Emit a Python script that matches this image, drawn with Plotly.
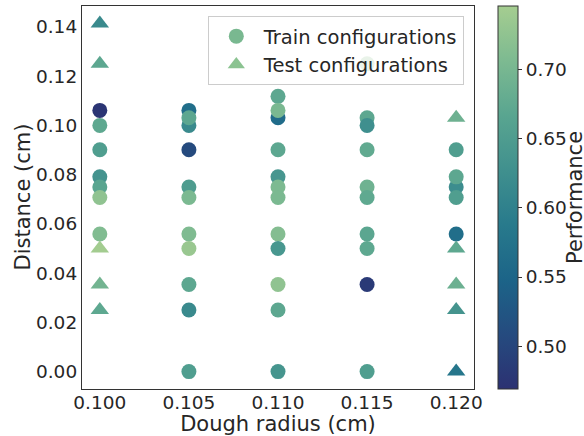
import plotly.graph_objects as go

# Train configurations (dough radius, distance, performance)
x_train = [0.100, 0.100, 0.100, 0.100, 0.100, 0.100, 0.100,
           0.105, 0.105, 0.105, 0.105, 0.105, 0.105, 0.105, 0.105, 0.105, 0.105, 0.105,
           0.110, 0.110, 0.110, 0.110, 0.110, 0.110, 0.110, 0.110, 0.110, 0.110, 0.110, 0.110,
           0.115, 0.115, 0.115, 0.115, 0.115, 0.115, 0.115, 0.115, 0.115, 0.115,
           0.120, 0.120, 0.120, 0.120, 0.120]
y_train = [0.1061, 0.1000, 0.0901, 0.0791, 0.0750, 0.0707, 0.0559,
           0.1061, 0.1000, 0.1031, 0.0901, 0.0750, 0.0707, 0.0559, 0.0500, 0.0354, 0.0250, 0.0000,
           0.1118, 0.1031, 0.1061, 0.0901, 0.0791, 0.0750, 0.0707, 0.0559, 0.0500, 0.0354, 0.0250, 0.0000,
           0.1250, 0.1031, 0.1000, 0.0901, 0.0750, 0.0707, 0.0559, 0.0500, 0.0354, 0.0000,
           0.0901, 0.0750, 0.0791, 0.0707, 0.0559]
perf_train = [0.475, 0.672, 0.653, 0.633, 0.667, 0.725, 0.710,
              0.566, 0.617, 0.671, 0.507, 0.650, 0.704, 0.708, 0.734, 0.671, 0.617, 0.653,
              0.671, 0.563, 0.703, 0.671, 0.639, 0.706, 0.704, 0.713, 0.640, 0.725, 0.671, 0.637,
              0.725, 0.671, 0.625, 0.676, 0.691, 0.674, 0.669, 0.672, 0.483, 0.653,
              0.653, 0.622, 0.671, 0.653, 0.566]

# Test configurations
x_test = [0.100, 0.100, 0.100, 0.100, 0.100,
          0.120, 0.120, 0.120, 0.120, 0.120]
y_test = [0.1414, 0.1250, 0.0500, 0.0354, 0.0250,
          0.1031, 0.0500, 0.0354, 0.0250, 0.0000]
perf_test = [0.617, 0.671, 0.744, 0.695, 0.672,
             0.690, 0.672, 0.688, 0.635, 0.581]

x_ticks = [0.100, 0.105, 0.110, 0.115, 0.120]
y_ticks = [0.00, 0.02, 0.04, 0.06, 0.08, 0.10, 0.12, 0.14]
cbar_ticks = [0.50, 0.55, 0.60, 0.65, 0.70]

crest_r = [
    [0.0, "#2c3172"],
    [1/7, "#254b7f"],
    [2/7, "#1c6488"],
    [3/7, "#287a8c"],
    [4/7, "#40908e"],
    [5/7, "#59a590"],
    [6/7, "#7dba91"],
    [1.0, "#a5cd90"],
]

FONT = "DejaVu Sans"
TXT = "#262626"

fig = go.Figure()
fig.add_trace(go.Scatter(
    x=x_train, y=y_train, mode="markers", showlegend=False,
    marker=dict(size=15, symbol="circle", color=perf_train, coloraxis="coloraxis",
                line=dict(width=0)),
))
fig.add_trace(go.Scatter(
    x=x_test, y=y_test, mode="markers", showlegend=False,
    marker=dict(size=16, symbol="triangle-up", color=perf_test, coloraxis="coloraxis",
                line=dict(width=0)),
))
# legend entries
fig.add_trace(go.Scatter(x=[None], y=[None], mode="markers", name="Train configurations",
                         marker=dict(size=15, symbol="circle", color="#79b890")))
fig.add_trace(go.Scatter(x=[None], y=[None], mode="markers", name="Test configurations",
                         marker=dict(size=15, symbol="triangle-up", color="#8bc391")))

fig.update_layout(
    width=584, height=436,
    margin=dict(l=82, r=110, t=6, b=47, autoexpand=False),
    paper_bgcolor="white", plot_bgcolor="white",
    font=dict(family=FONT, size=18.5, color=TXT),
    coloraxis=dict(
        colorscale=crest_r, cmin=0.469, cmax=0.746,
        colorbar=dict(
            x=1.061, xanchor="left", xref="paper", xpad=0, ypad=0,
            y=0.5, yanchor="middle", len=1.0, lenmode="fraction",
            thickness=20, outlinewidth=1, outlinecolor="#333333",
            tickvals=cbar_ticks, ticktext=[f"{v:.2f}" for v in cbar_ticks],
            ticks="outside", ticklen=4, tickcolor="#333333",
            tickfont=dict(family=FONT, size=18.5, color=TXT),
        ),
    ),
    legend=dict(
        x=0.974, y=0.974, xanchor="right", yanchor="top",
        bgcolor="rgba(255,255,255,0.8)", bordercolor="#cccccc", borderwidth=1,
        font=dict(family=FONT, size=19.5, color=TXT),
        tracegroupgap=0, itemwidth=45,
    ),
    annotations=[
        dict(text="Distance (cm)", xref="paper", yref="paper",
             x=(22 - 82) / 392, y=0.5, xanchor="center", yanchor="middle",
             textangle=-90, showarrow=False,
             font=dict(family=FONT, size=21, color=TXT)),
        dict(text="Performance", xref="paper", yref="paper",
             x=(574.5 - 82) / 392, y=0.5, xanchor="center", yanchor="middle",
             textangle=-90, showarrow=False,
             font=dict(family=FONT, size=21, color=TXT)),
    ],
)
fig.update_xaxes(
    range=[0.099, 0.121], tickvals=x_ticks, ticktext=[f"{v:.3f}" for v in x_ticks],
    showgrid=False, zeroline=False, showline=True, mirror=True,
    linecolor="#333333", linewidth=1.25, automargin=False,
    ticks="", ticklabelstandoff=-3,
    title=dict(text="Dough radius (cm)", font=dict(family=FONT, size=21, color=TXT), standoff=2),
)
fig.update_yaxes(
    range=[-0.00707, 0.1485], tickvals=y_ticks, ticktext=[f"{v:.2f}" for v in y_ticks],
    showgrid=False, zeroline=False, showline=True, mirror=True,
    linecolor="#333333", linewidth=1.25, automargin=False,
    ticks="",
)

fig.write_html("out.html", config={"displayModeBar": False},
               post_script="document.body.style.margin='0';")
